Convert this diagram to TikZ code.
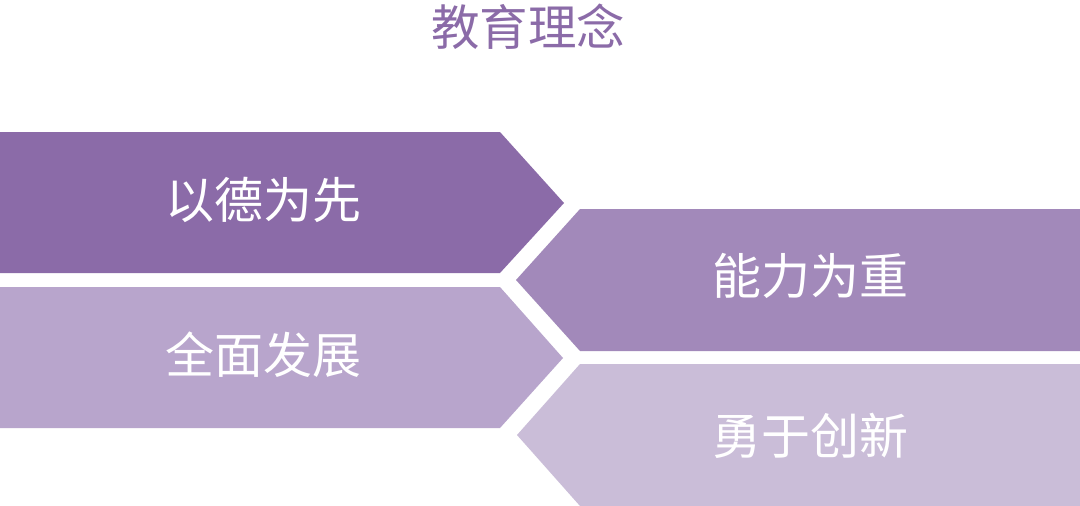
\documentclass[tikz,border=0pt]{standalone}
\usepackage{fontspec}
\newfontfamily\cjk{Noto Sans CJK SC}
\definecolor{cA}{HTML}{8B6BA8}
\definecolor{cB}{HTML}{B8A5CC}
\definecolor{cC}{HTML}{A289BA}
\definecolor{cD}{HTML}{CABDD8}
\definecolor{ctitle}{HTML}{8B6BA8}
\tikzset{
  lbl/.style={text=white,font=\cjk\fontsize{49}{54}\selectfont,inner sep=0pt,anchor=center},
  ttl/.style={text=ctitle,font=\cjk\fontsize{48.5}{54}\selectfont,inner sep=0pt,anchor=center}
}
\begin{document}
\begin{tikzpicture}[x=1pt,y=-1pt]
\useasboundingbox (0,0) rectangle (1080,506);
\fill[white] (0,0) rectangle (1080,506);
\fill[cA] (0,132) -- (500,132) -- (564,203) -- (500,273) -- (0,273) -- cycle;
\fill[cB] (0,287) -- (500,287) -- (563,358) -- (500,428) -- (0,428) -- cycle;
\fill[cC] (580,209) -- (1080,209) -- (1080,351) -- (580,351) -- (516,280) -- cycle;
\fill[cD] (580,364) -- (1080,364) -- (1080,506) -- (580,506) -- (517,435) -- cycle;
\node[ttl] (title) at (528,27) {教育理念};
\node[lbl] (t1) at (263,200) {以德为先};
\node[lbl] (t2) at (263,355) {全面发展};
\node[lbl] (t3) at (810,276) {能力为重};
\node[lbl] (t4) at (810,436) {勇于创新};
\end{tikzpicture}
\end{document}
